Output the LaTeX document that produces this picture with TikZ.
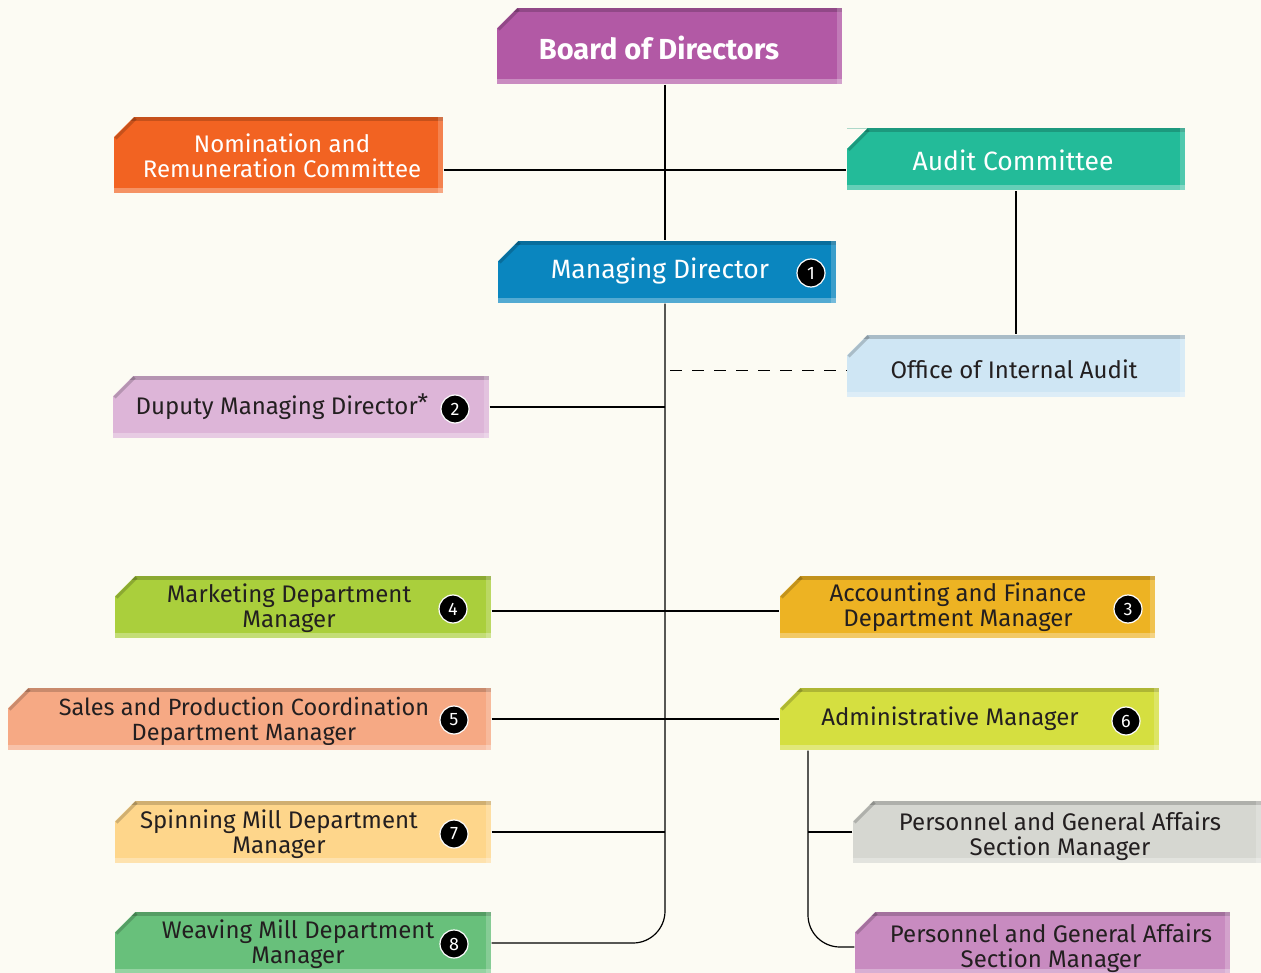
\documentclass[tikz,border=0pt]{standalone}
\usepackage{fontspec}
\setmainfont{Fira Sans}
\usepackage{xcolor}

\definecolor{bgcol}{HTML}{FCFBF3}
\definecolor{inkcol}{HTML}{231F20}
\definecolor{bodcol}{HTML}{B259A5}
\definecolor{nrccol}{HTML}{F26322}
\definecolor{accol}{HTML}{23BB99}
\definecolor{mdcol}{HTML}{0A86BF}
\definecolor{iacol}{HTML}{CFE6F4}
\definecolor{dmdcol}{HTML}{DDB5D8}
\definecolor{mktcol}{HTML}{AACF3C}
\definecolor{afcol}{HTML}{EDB323}
\definecolor{spccol}{HTML}{F6A984}
\definecolor{admcol}{HTML}{D5DF40}
\definecolor{smcol}{HTML}{FED68B}
\definecolor{pgacol}{HTML}{D6D7D1}
\definecolor{wmcol}{HTML}{68C07B}
\definecolor{pgbcol}{HTML}{C88BC0}

\begin{document}
\begin{tikzpicture}[
            x = 1pt, y = -1pt, % pixel grid
            unit/.style = {shape = rectangle, inner sep = 0pt, minimum height = 62pt,
                path picture = {
                    % darker top edge, lighter bottom and right edges
                    \fill[black, opacity = .18] (path picture bounding box.north west) rectangle ([yshift=-4pt]path picture bounding box.north east);
                    \fill[white, opacity = .3] ([yshift=5pt]path picture bounding box.south west) rectangle (path picture bounding box.south east);
                    \fill[white, opacity = .2] ([xshift=-5pt]path picture bounding box.north east) rectangle (path picture bounding box.south east);
                    % cut corner
                    \fill[bgcol] (path picture bounding box.north west) -- ([xshift=20pt]path picture bounding box.north west) -- ([yshift=-20pt]path picture bounding box.north west) -- cycle;
                    \draw[black, opacity = .18, line width = 3pt] ([xshift=21.5pt, yshift=-1.5pt]path picture bounding box.north west) -- ([xshift=1.5pt, yshift=-21.5pt]path picture bounding box.north west);
                }},
            txt/.style = {align = center, text = inkcol, font = \fontsize{24}{25}\selectfont},
            num/.style = {shape = circle, fill = black, draw = white, line width = 1.2pt,
                minimum size = 28pt, inner sep = 0pt, text = white, font = \fontsize{18}{18}\selectfont},
            line width = 1.2pt % line style
        ]

\useasboundingbox[fill=bgcol] (0,0) rectangle (1261,973);

% boxes
\node[unit, fill=bodcol, minimum width=345pt, minimum height=76pt] (BoD) at (669.5,46) {};
\node[unit, fill=nrccol, minimum width=329pt, minimum height=76pt] (NRC) at (278.5,155) {};
\node[unit, fill=accol, minimum width=338pt] (AC) at (1016,159.5) {};
\node[unit, fill=mdcol, minimum width=338pt] (MD) at (667,272) {};
\node[unit, fill=iacol, minimum width=338pt] (IA) at (1016,366) {};
\node[unit, fill=dmdcol, minimum width=376pt] (DMD) at (301,407) {};
\node[unit, fill=mktcol, minimum width=376pt] (MKT) at (303,607) {};
\node[unit, fill=afcol, minimum width=375pt] (AF) at (967.5,607) {};
\node[unit, fill=spccol, minimum width=483pt] (SPC) at (249.5,719) {};
\node[unit, fill=admcol, minimum width=379pt] (ADM) at (969.5,719) {};
\node[unit, fill=smcol, minimum width=376pt] (SM) at (303,832) {};
\node[unit, fill=pgacol, minimum width=408pt] (PGA) at (1057,832) {};
\node[unit, fill=wmcol, minimum width=376pt] (WM) at (303,943) {};
\node[unit, fill=pgbcol, minimum width=375pt] (PGB) at (1042.5,943) {};

% texts
\node[txt, text=white, font=\fontsize{29}{32}\selectfont\bfseries] (BoD_t) at (659,48) {Board of Directors};
\node[txt, text=white] (NRC_t) at (282,156) {Nomination and\\Remuneration Committee};
\node[txt, text=white, font=\fontsize{26.5}{28}\selectfont] (AC_t) at (1013,160) {Audit Committee};
\node[txt, text=white, font=\fontsize{26.5}{28}\selectfont] (MD_t) at (660,271) {Managing Director};
\node[txt] (IA_t) at (1014,369) {Office of Internal Audit};
\node[txt] (DMD_t) at (282,407) {Duputy Managing Director\raisebox{3pt}{*}};
\node[txt] (MKT_t) at (289,608) {Marketing Department\\Manager};
\node[txt] (AF_t) at (958,607) {Accounting and Finance\\Department Manager};
\node[txt, font=\fontsize{23.5}{25}\selectfont] (SPC_t) at (244,721) {Sales and Production Coordination\\Department Manager};
\node[txt] (ADM_t) at (950,719) {Administrative Manager};
\node[txt] (SM_t) at (279,834) {Spinning Mill Department\\Manager};
\node[txt] (PGA_t) at (1060,836) {Personnel and General Affairs\\Section Manager};
\node[txt] (WM_t) at (298,944) {Weaving Mill Department\\Manager};
\node[txt] (PGB_t) at (1051,948) {Personnel and General Affairs\\Section Manager};

% numbers
\node[num] (n1) at (811,273) {1};
\node[num] (n2) at (455,409) {2};
\node[num] (n3) at (1128,609) {3};
\node[num] (n4) at (453,609) {4};
\node[num] (n5) at (454,720) {5};
\node[num] (n6) at (1126,721) {6};
\node[num] (n7) at (454,834) {7};
\node[num] (n8) at (454,944) {8};

% helper points
\coordinate (trunk) at (665,0);
\coordinate (nrline) at (0,170);
\coordinate (ialine) at (670,371);
\coordinate (mkline) at (0,611);
\coordinate (admx) at (808,0);

% connectors
\draw (BoD.south -| trunk) -- (MD.north -| trunk);
\draw (NRC.east |- nrline) -- (AC.west |- nrline);
\draw (AC.south) -- (IA.north);
\draw[dash pattern=on 12pt off 10pt, line width=1pt] (ialine) -- (IA.west |- ialine);
\draw[rounded corners=32pt] (MD.south -| trunk) |- (WM.east);
\draw (DMD.east) -- (DMD.east -| trunk);
\draw (MKT.east |- mkline) -- (AF.west |- mkline);
\draw (SPC.east) -- (ADM.west);
\draw (SM.east) -- (SM.east -| trunk);
\draw[rounded corners=32pt] (ADM.south -| admx) |- ([yshift=-4pt]PGB.west);
\draw (PGA.west) -- (PGA.west -| admx);
\end{tikzpicture}
\end{document}
